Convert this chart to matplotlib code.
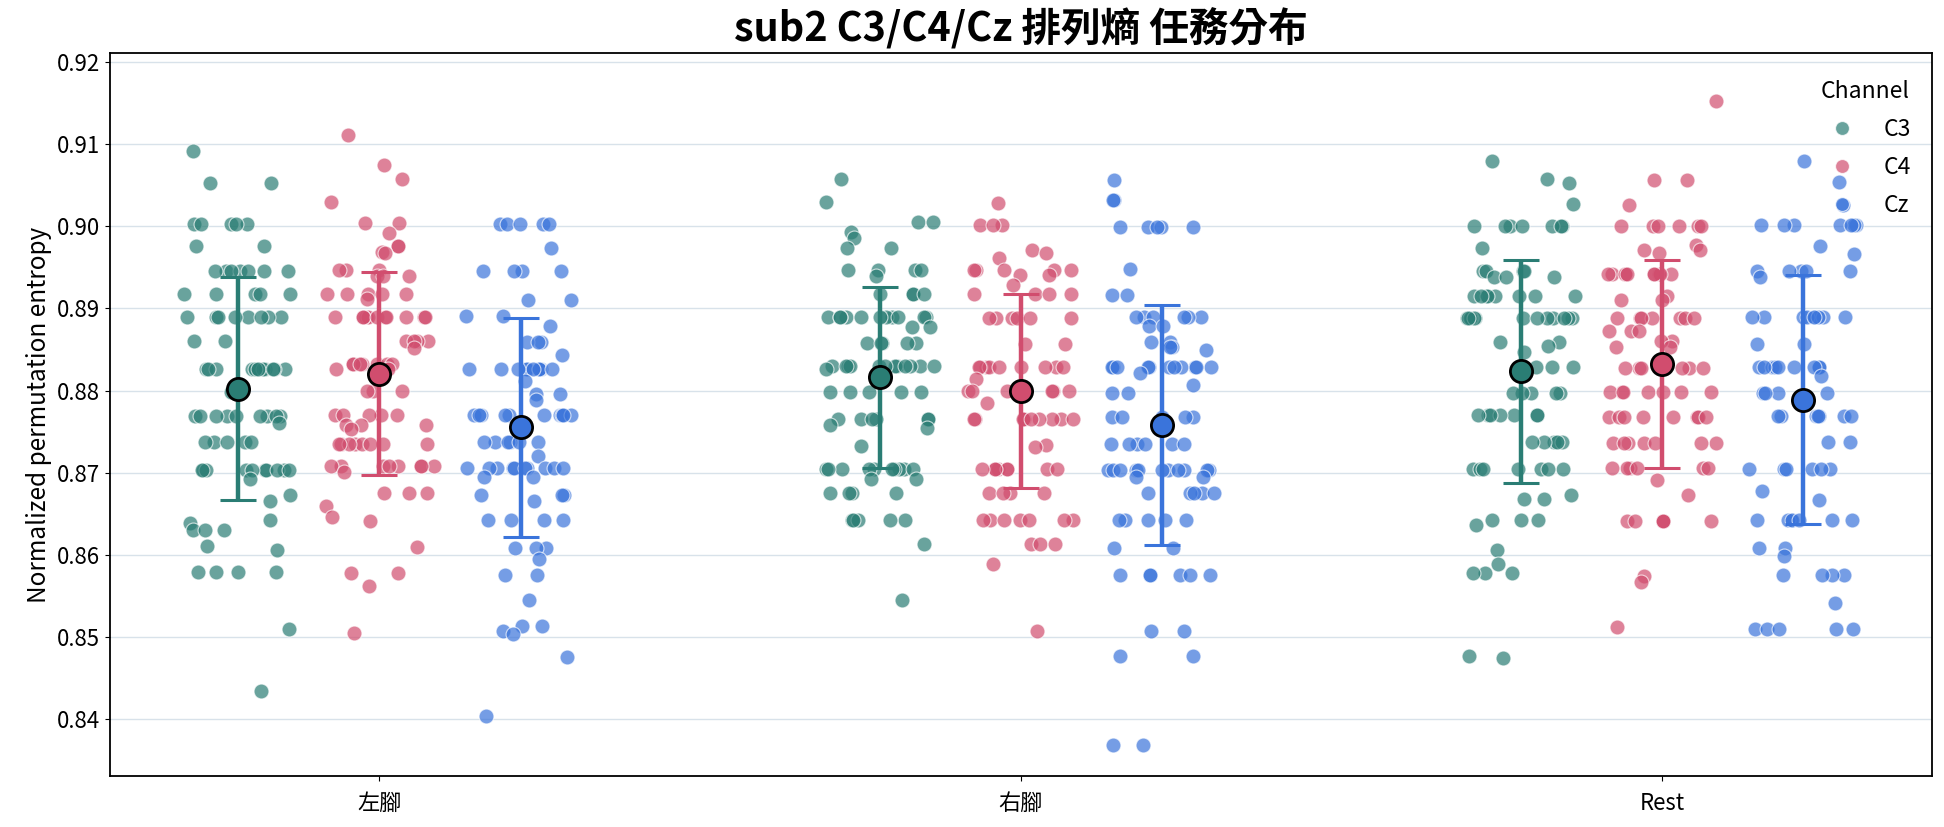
import numpy as np
import matplotlib.pyplot as plt
from matplotlib.lines import Line2D

plt.rcParams['font.family'] = ['Noto Sans CJK TC', 'DejaVu Sans']

tasks = ['左腳', '右腳', 'Rest']
channels = ['C3', 'C4', 'Cz']
colors = {'C3': '#2a7d74', 'C4': '#d14d6e', 'Cz': '#3a74db'}

# values: entropy level and how many trials sit on it
left_c3_levels = [0.9092, 0.9053, 0.9003, 0.8976, 0.8946, 0.8918, 0.8889, 0.8860, 0.8826, 0.8798,
                  0.8769, 0.8761, 0.8738, 0.8704, 0.8693, 0.8673, 0.8666, 0.8642, 0.8639, 0.8630,
                  0.8611, 0.8606, 0.8579, 0.8510, 0.8435]
left_c3_counts = [1, 2, 5, 2, 7, 5, 8, 2, 12, 1, 9, 1, 5, 10, 1, 1, 1, 1, 1, 3, 1, 1, 4, 1, 1]

left_c4_levels = [0.9111, 0.9074, 0.9057, 0.9030, 0.9004, 0.8992, 0.8976, 0.8969, 0.8967, 0.8947,
                  0.8939, 0.8918, 0.8912, 0.8889, 0.8860, 0.8852, 0.8832, 0.8826, 0.8800, 0.8770,
                  0.8758, 0.8753, 0.8735, 0.8708, 0.8701, 0.8675, 0.8659, 0.8646, 0.8641, 0.8610,
                  0.8578, 0.8562, 0.8505]
left_c4_counts = [1, 1, 1, 1, 2, 1, 2, 1, 1, 3, 3, 5, 1, 11, 4, 1, 7, 2, 3, 5, 3, 1, 8, 8, 1, 3,
                  1, 1, 1, 1, 2, 1, 1]

left_cz_levels = [0.9003, 0.8973, 0.8945, 0.8910, 0.8891, 0.8879, 0.8859, 0.8843, 0.8826, 0.8812,
                  0.8796, 0.8788, 0.8770, 0.8737, 0.8721, 0.8706, 0.8695, 0.8673, 0.8666, 0.8643,
                  0.8608, 0.8595, 0.8576, 0.8545, 0.8514, 0.8508, 0.8504, 0.8476, 0.8404]
left_cz_counts = [5, 1, 4, 2, 2, 1, 3, 1, 10, 1, 2, 1, 10, 6, 1, 10, 2, 3, 1, 4, 3, 1, 2, 1, 2,
                  1, 1, 1, 1]

right_c3_levels = [0.9057, 0.9030, 0.9005, 0.8993, 0.8986, 0.8974, 0.8947, 0.8940, 0.8918, 0.8890,
                   0.8877, 0.8858, 0.8830, 0.8826, 0.8798, 0.8766, 0.8758, 0.8754, 0.8732, 0.8705,
                   0.8693, 0.8675, 0.8642, 0.8613, 0.8545]
right_c3_counts = [1, 1, 2, 1, 1, 2, 4, 1, 4, 11, 2, 5, 12, 1, 5, 6, 1, 1, 1, 10, 2, 4, 5, 1, 1]

right_c4_levels = [0.9028, 0.9002, 0.8971, 0.8967, 0.8962, 0.8947, 0.8941, 0.8928, 0.8917, 0.8888,
                   0.8857, 0.8829, 0.8814, 0.8799, 0.8785, 0.8765, 0.8734, 0.8731, 0.8705, 0.8675,
                   0.8642, 0.8613, 0.8589, 0.8507]
right_c4_counts = [1, 3, 1, 1, 1, 5, 2, 1, 4, 6, 2, 9, 1, 6, 1, 10, 1, 1, 8, 4, 7, 3, 1, 1]

right_cz_levels = [0.9056, 0.9032, 0.8999, 0.8948, 0.8916, 0.8890, 0.8879, 0.8859, 0.8853, 0.8849,
                   0.8829, 0.8821, 0.8807, 0.8797, 0.8768, 0.8735, 0.8704, 0.8695, 0.8675, 0.8643,
                   0.8609, 0.8575, 0.8508, 0.8477, 0.8369]
right_cz_counts = [1, 2, 5, 1, 2, 6, 2, 2, 2, 1, 11, 1, 1, 2, 5, 6, 11, 2, 5, 5, 2, 6, 2, 2, 2]

rest_c3_levels = [0.9080, 0.9057, 0.9053, 0.9027, 0.9000, 0.8974, 0.8946, 0.8938, 0.8915, 0.8888,
                  0.8859, 0.8854, 0.8847, 0.8829, 0.8797, 0.8770, 0.8737, 0.8705, 0.8673, 0.8668,
                  0.8642, 0.8637, 0.8606, 0.8589, 0.8578, 0.8477, 0.8474]
rest_c3_counts = [1, 1, 1, 1, 7, 1, 4, 3, 8, 13, 2, 1, 1, 4, 5, 7, 5, 7, 1, 2, 3, 1, 1, 1, 3, 1, 1]

rest_c4_levels = [0.9153, 0.9056, 0.9026, 0.9000, 0.8977, 0.8971, 0.8968, 0.8942, 0.8915, 0.8910,
                  0.8888, 0.8873, 0.8860, 0.8853, 0.8828, 0.8798, 0.8768, 0.8736, 0.8706, 0.8691,
                  0.8673, 0.8641, 0.8574, 0.8567, 0.8512]
rest_c4_counts = [1, 2, 1, 6, 1, 2, 1, 10, 1, 2, 7, 3, 2, 2, 6, 7, 8, 7, 6, 1, 1, 6, 1, 1, 1]

rest_cz_levels = [0.9080, 0.9054, 0.9026, 0.9001, 0.8976, 0.8966, 0.8945, 0.8938, 0.8889, 0.8857,
                  0.8829, 0.8818, 0.8797, 0.8769, 0.8738, 0.8705, 0.8678, 0.8667, 0.8642, 0.8609,
                  0.8599, 0.8575, 0.8541, 0.8510]
rest_cz_counts = [1, 1, 1, 7, 1, 1, 5, 1, 9, 2, 9, 1, 4, 7, 2, 6, 1, 1, 7, 2, 1, 4, 1, 5]

data = {
    ('左腳', 'C3'): (left_c3_levels, left_c3_counts),
    ('左腳', 'C4'): (left_c4_levels, left_c4_counts),
    ('左腳', 'Cz'): (left_cz_levels, left_cz_counts),
    ('右腳', 'C3'): (right_c3_levels, right_c3_counts),
    ('右腳', 'C4'): (right_c4_levels, right_c4_counts),
    ('右腳', 'Cz'): (right_cz_levels, right_cz_counts),
    ('Rest', 'C3'): (rest_c3_levels, rest_c3_counts),
    ('Rest', 'C4'): (rest_c4_levels, rest_c4_counts),
    ('Rest', 'Cz'): (rest_cz_levels, rest_cz_counts),
}

offsets = {'C3': -0.22, 'C4': 0.0, 'Cz': 0.22}
rng = np.random.default_rng(3)  # strip jitter only

fig = plt.figure(figsize=(19.44, 8.27), dpi=100)
ax = fig.add_axes([0.0566, 0.0617, 0.937, 0.8743])

for i, task in enumerate(tasks):
    for ch in channels:
        levels, counts = data[(task, ch)]
        y = np.repeat(levels, counts)
        x = i + offsets[ch] + rng.uniform(-0.085, 0.085, len(y))
        ax.scatter(x, y, s=115, color=colors[ch], alpha=0.7,
                   edgecolor='white', linewidth=0.8, zorder=2)
        m, sd = y.mean(), y.std(ddof=1)
        ax.errorbar(i + offsets[ch], m, yerr=sd, color=colors[ch], elinewidth=3.2,
                    capsize=13, capthick=2.2, zorder=3)
        ax.plot(i + offsets[ch], m, 'o', ms=16, mfc=colors[ch], mec='black', mew=2, zorder=4)

ax.set_xlim(-0.42, 2.42)
ax.set_ylim(0.8331, 0.9211)
ax.set_xticks(range(len(tasks)))
ax.set_xticklabels(tasks)
ax.set_yticks(np.arange(0.84, 0.9201, 0.01))
ax.set_yticklabels([f'{v:.2f}' for v in np.arange(0.84, 0.9201, 0.01)])
ax.tick_params(labelsize=16)
ax.tick_params(axis='x', pad=8)
ax.grid(axis='y', color='#d8e2ea', linewidth=1)
ax.set_axisbelow(True)
for sp in ax.spines.values():
    sp.set_linewidth(1.3)
ax.set_ylabel('Normalized permutation entropy', fontsize=17.5)
ax.set_title('sub2 C3/C4/Cz 排列熵 任務分布', fontsize=28.5, fontweight='bold', pad=8)

handles = [Line2D([], [], marker='o', ls='', ms=10, color=colors[ch], alpha=0.7,
                  mec='white', mew=0.8) for ch in channels]
ax.legend(handles, channels, title='Channel', loc='upper right', frameon=False,
          bbox_to_anchor=(1, 0.991), fontsize=16.5, title_fontsize=16.5,
          borderaxespad=0.5, labelspacing=0.65, handletextpad=0.8)

fig.savefig('out.png', dpi=100)
